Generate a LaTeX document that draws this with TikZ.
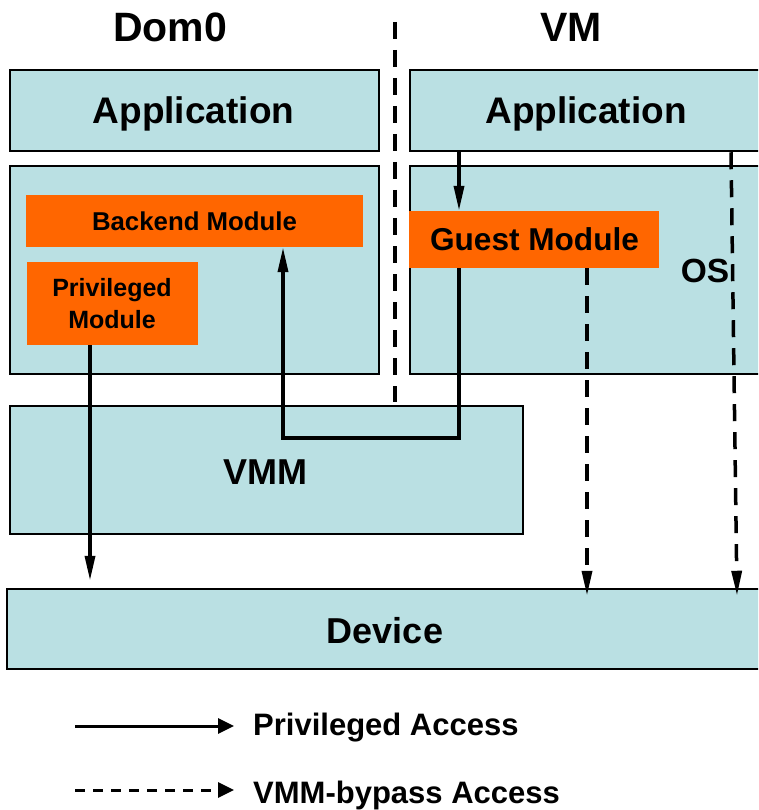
\documentclass[tikz,border=0pt]{standalone}
\usepackage{fontspec}
\setmainfont{Liberation Sans}
\usetikzlibrary{arrows.meta}
\definecolor{boxblue}{RGB}{186,224,227}
\definecolor{modorange}{RGB}{255,102,0}
\begin{document}
\begin{tikzpicture}[x=1pt,y=-1pt,
  layer/.style={draw=black, line width=2.5pt, fill=boxblue, inner sep=0pt},
  module/.style={fill=modorange, inner sep=0pt},
  txt/.style={inner sep=0pt, anchor=base, font=\bfseries\fontsize{#1}{#1}\selectfont},
  privacc/.style={line width=3.5pt, -{Triangle[length=25pt,width=10pt]}},
  bypassacc/.style={line width=3.5pt, dash pattern=on 17pt off 11pt, -{Triangle[length=25pt,width=10pt]}},
  legsolid/.style={line width=3pt, -{Triangle[length=16pt,width=15pt]}},
  legdash/.style={line width=3pt, dash pattern=on 10pt off 8pt, -{Triangle[length=16pt,width=15pt]}},
  sep/.style={line width=4pt, dash pattern=on 17pt off 11pt}
]
\useasboundingbox (0,0) rectangle (758,810);
\clip (0,0) rectangle (758,810);

% titles
\node[txt=41] (tdom) at (170,42) {Dom0};
\node[txt=41] (tvm) at (571,42) {VM};

% separator
\coordinate (s1) at (395,22);
\coordinate (s2) at (395,402);
\draw[sep] (s1) -- (s2);

% boxes
\node[layer, minimum width=369pt, minimum height=81pt] (app0) at (194.5,110.5) {};
\node[layer, minimum width=352pt, minimum height=81pt] (app1) at (586,110.5) {};
\node[layer, minimum width=369pt, minimum height=208pt] (os0) at (194.5,270) {};
\node[layer, minimum width=352pt, minimum height=208pt] (os1) at (586,270) {};
\node[module, minimum width=337pt, minimum height=52pt] (backend) at (194.5,221) {};
\node[module, minimum width=171pt, minimum height=83pt] (priv) at (112.5,303.5) {};
\node[module, minimum width=250pt, minimum height=57pt] (guest) at (534,239.5) {};
\node[layer, minimum width=513pt, minimum height=128pt] (vmm) at (266.5,470) {};
\node[layer, minimum width=755pt, minimum height=80pt] (device) at (384.5,629) {};

% texts
\node[txt=37] (lapp0) at (193.5,124) {Application};
\node[txt=37] (lapp1) at (586,124) {Application};
\node[txt=25.8] (lback) at (194.5,230.5) {Backend Module};
\node[txt=25] (lpriv1) at (112,296.5) {Privileged};
\node[txt=25] (lpriv2) at (112,328.5) {Module};
\node[txt=31.6] (lguest) at (534.5,250) {Guest Module};
\node[txt=33.5] (los) at (705,282) {OS};
\node[txt=36] (lvmm) at (265.5,484) {VMM};
\node[txt=36] (ldev) at (385,643) {Device};

% connectors
\coordinate (p1) at (90,0);
\coordinate (g1) at (459,438);
\coordinate (b1) at (283,438);
\coordinate (d1) at (587,0);
\coordinate (r1) at (731,0);
\coordinate (r2) at (737,0);

\draw[privacc] (priv.south -| p1) -- ([yshift=7pt]device.north -| p1);
\draw[privacc] (app1.south -| g1) -- (guest.north -| g1);
\draw[privacc] (guest.south -| g1) -- (g1) -- (b1) -- (backend.south -| b1);
\draw[bypassacc] (guest.south -| d1) -- ([yshift=-8pt]device.north -| d1);
\draw[bypassacc] (app1.south -| r1) -- ([yshift=-8pt]device.north -| r2);

% legend
\coordinate (la1) at (75,726);
\coordinate (la2) at (234,726);
\coordinate (lb1) at (75,790);
\coordinate (lb2) at (234,790);
\draw[legsolid] (la1) -- (la2);
\draw[legdash] (lb1) -- (lb2);
\node[txt=31, anchor=base west] (lpa) at (253,735) {Privileged Access};
\node[txt=31, anchor=base west] (lva) at (253,803) {VMM-bypass Access};
\end{tikzpicture}
\end{document}
